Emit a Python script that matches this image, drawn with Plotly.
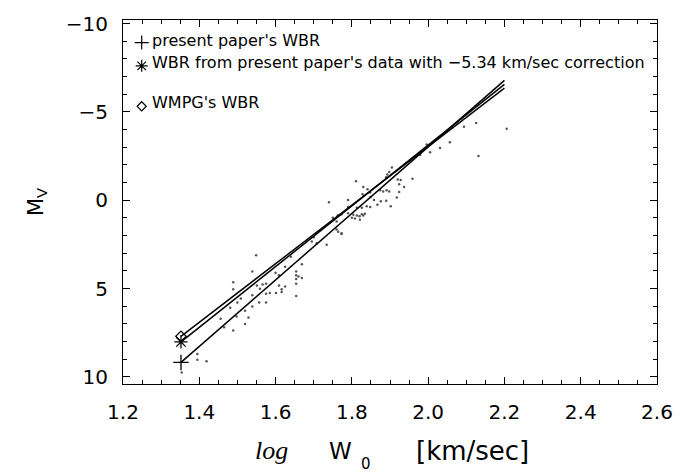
import plotly.graph_objects as go

# Individual stars: log W0 [km/sec] and absolute magnitude M_V
star_logw = [
    1.549, 1.539, 1.489, 1.489, 1.509, 1.500, 1.481, 1.456, 1.465, 1.489,
    1.520, 1.529, 1.520, 1.539, 1.557, 1.575, 1.539, 1.551, 1.566, 1.575,
    1.559, 1.575, 1.585, 1.601, 1.609, 1.616, 1.616, 1.625, 1.609, 1.625,
    1.654, 1.654, 1.660, 1.669, 1.654, 1.654, 1.654, 1.669, 1.695, 1.708,
    1.734, 1.773, 1.395, 1.395, 1.419, 1.354, 1.498, 1.740, 1.790, 1.750,
    1.763, 1.773, 1.790, 1.760, 1.764, 1.773, 1.790, 2.126, 2.206, 2.132,
    2.094, 1.996, 1.905, 1.893, 1.898, 1.890, 1.920, 1.928, 1.959, 1.924,
    1.937, 1.924, 1.918, 1.811, 1.830, 1.841, 1.848, 1.828, 1.849, 1.891,
    1.898, 1.874, 1.882, 1.858, 1.876, 1.890, 1.867, 1.902, 1.848, 1.813,
    1.826, 1.839, 1.834, 1.826, 1.813, 1.820, 1.808, 1.821, 1.800, 1.830,
    1.804, 2.031, 2.057, 1.979, 1.952, 2.005, 1.700, 1.640, 1.600, 1.760,
]
star_mv = [
    3.11, 4.03, 4.64, 5.04, 5.56, 5.79, 6.08, 6.71, 7.19, 7.37,
    7.00, 6.63, 6.26, 6.02, 5.79, 5.79, 5.38, 4.82, 4.77, 4.73,
    5.01, 5.29, 5.25, 5.25, 4.82, 5.04, 5.19, 4.88, 4.24, 3.77,
    4.03, 4.24, 4.32, 4.40, 4.46, 4.73, 5.42, 3.63, 2.33, 2.43,
    2.52, 1.91, 8.70, 9.03, 9.11, 9.75, 6.58, 0.12, -0.01, 0.99,
    0.86, 0.80, 0.73, 1.65, 1.78, 1.87, 0.39, -4.37, -4.04, -2.50,
    -4.16, -3.15, -1.85, -1.45, -1.60, -1.30, -1.17, -1.14, -1.21, -0.90,
    -0.75, -0.47, -0.16, -1.08, -0.75, -0.62, -0.44, -0.34, -0.19, -0.56,
    -0.49, -0.56, -0.49, -0.01, 0.06, 0.03, 0.25, 0.34, 0.39, 0.43,
    0.43, 0.34, 0.76, 0.80, 0.86, 0.91, 1.04, 1.10, 0.99, 0.86,
    0.82, -2.95, -3.28, -2.56, -2.23, -2.72, 2.10, 3.20, 4.10, 1.20,
]

# Wilson-Bappu relations, evaluated at the ends of the fitted range
wbr_logw = [1.352, 2.200]
present_mv = [9.18, -6.78]
corrected_mv = [8.02, -6.56]
wmpg_mv = [7.70, -6.34]

legend_labels = [
    "present paper's WBR",
    "WBR from present paper's data with \u22125.34 km/sec correction",
    "WMPG's WBR",
]

x_ticks = [1.2, 1.4, 1.6, 1.8, 2.0, 2.2, 2.4, 2.6]
y_ticks = [-10, -5, 0, 5, 10]

fig = go.Figure()

fig.add_trace(go.Scatter(
    x=star_logw, y=star_mv, mode="markers",
    marker=dict(size=2.5, color="#555555"), showlegend=False,
))

relations = [
    (present_mv, "cross-thin-open", 11),
    (corrected_mv, "asterisk-open", 11),
    (wmpg_mv, "diamond-open", 8),
]
for mv, symbol, msize in relations:
    fig.add_trace(go.Scatter(
        x=wbr_logw, y=mv, mode="lines",
        line=dict(color="black", width=1.5), showlegend=False,
    ))
    fig.add_trace(go.Scatter(
        x=wbr_logw[:1], y=mv[:1], mode="markers",
        marker=dict(symbol=symbol, size=msize, color="black",
                    line=dict(color="black", width=1.3)),
        showlegend=False,
    ))

# Key in the upper-left corner, drawn on a unit overlay frame
key_y_sym = [0.938, 0.874, 0.763]
key_y_txt = [0.944, 0.884, 0.774]
key_symbols = [("cross-thin-open", 10), ("asterisk-open", 10), ("diamond-open", 7)]
for (symbol, msize), ys in zip(key_symbols, key_y_sym):
    fig.add_trace(go.Scatter(
        x=[0.035], y=[ys], xaxis="x2", yaxis="y2", mode="markers",
        marker=dict(symbol=symbol, size=msize, color="black",
                    line=dict(color="black", width=1.2)),
        showlegend=False, hoverinfo="skip",
    ))
for label, yt in zip(legend_labels, key_y_txt):
    fig.add_annotation(
        x=0.051, y=yt, xref="paper", yref="paper", text=label,
        showarrow=False, xanchor="left", yanchor="middle",
        font=dict(family="DejaVu Sans", size=16, color="black"),
    )

# x-axis title: log W_0 [km/sec]
def title_part(x, y, text, family, size):
    fig.add_annotation(x=x, y=y, xref="paper", yref="paper", text=text,
                       showarrow=False, xanchor="center", yanchor="middle",
                       font=dict(family=family, size=size, color="black"))

title_part(0.279, -0.183, "<i>log</i>", "Liberation Serif", 26)
title_part(0.408, -0.183, "W", "DejaVu Sans", 23)
title_part(0.455, -0.219, "0", "DejaVu Sans", 15)
title_part(0.655, -0.183, "[km/sec]", "DejaVu Sans", 26)

axis_common = dict(
    showline=True, linecolor="black", linewidth=1, mirror="ticks",
    ticks="inside", tickcolor="black", ticklen=7, tickwidth=1,
    showgrid=False, zeroline=False,
    tickfont=dict(family="DejaVu Sans", size=20, color="black"),
)

fig.update_layout(
    width=693, height=475,
    margin=dict(l=123, r=36, t=12, b=91),
    paper_bgcolor="white", plot_bgcolor="white",
    xaxis=dict(
        range=[1.2, 2.6], tickvals=x_ticks,
        ticktext=[f"{v:.1f}" for v in x_ticks],
        ticklabelstandoff=10,
        minor=dict(dtick=0.05, ticks="inside", ticklen=4, tickcolor="black"),
        **axis_common,
    ),
    yaxis=dict(
        range=[10.4, -10.2], tickvals=y_ticks,
        ticktext=["\u221210", "\u22125", "0", "5", "10"],
        ticklabelstandoff=10,
        minor=dict(dtick=1, ticks="inside", ticklen=4, tickcolor="black"),
        title=dict(text="M<sub>V</sub>", standoff=16,
                   font=dict(family="DejaVu Sans", size=21, color="black")),
        **axis_common,
    ),
    xaxis2=dict(overlaying="x", range=[0, 1], visible=False),
    yaxis2=dict(overlaying="y", range=[0, 1], visible=False),
)

fig.write_html("out.html")
